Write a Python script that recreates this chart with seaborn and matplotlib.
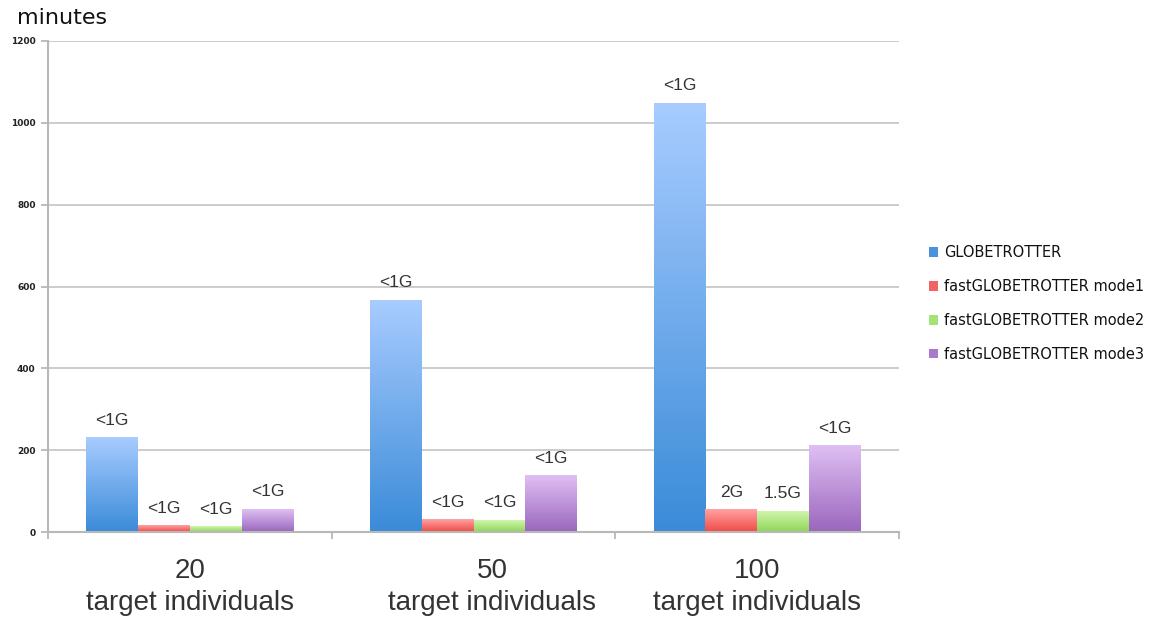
import numpy as np
import pandas as pd
import matplotlib
matplotlib.use("Agg")
import matplotlib.pyplot as plt
import matplotlib.transforms as mtransforms
from matplotlib.colors import LinearSegmentedColormap
from matplotlib.patches import Patch
import seaborn as sns

# ---------------- data ----------------
categories = ["20\ntarget individuals", "50\ntarget individuals", "100\ntarget individuals"]
series = ["GLOBETROTTER", "fastGLOBETROTTER mode1", "fastGLOBETROTTER mode2", "fastGLOBETROTTER mode3"]
globetrotter = [230, 567, 1048]
fast_mode1 = [15, 31, 55]
fast_mode2 = [14, 29, 51]
fast_mode3 = [56, 138, 212]
mem_globetrotter = ["<1G", "<1G", "<1G"]
mem_mode1 = ["<1G", "<1G", "2G"]
mem_mode2 = ["<1G", "<1G", "1.5G"]
mem_mode3 = ["<1G", "<1G", "<1G"]
yticks = [0, 200, 400, 600, 800, 1000, 1200]

values = [globetrotter, fast_mode1, fast_mode2, fast_mode3]
mems = [mem_globetrotter, mem_mode1, mem_mode2, mem_mode3]

df = pd.DataFrame({
    "category": [c for _ in series for c in categories],
    "series": [s for s in series for _ in categories],
    "minutes": [v for vals in values for v in vals],
})

# gradient colours (top, bottom) and legend colours
grad_colors = [("#a8ccff", "#3a8bd8"),
               ("#ffa3a3", "#ef4a45"),
               ("#d0f6ad", "#8ed655"),
               ("#dfc0f3", "#9a66bd")]
legend_colors = ["#4a92dc", "#f26464", "#a4e27a", "#a77acb"]

sns.set_theme(style="white")
plt.rcParams["font.family"] = ["Liberation Sans", "DejaVu Sans"]

fig = plt.figure(figsize=(11.62, 6.19), dpi=100)
ax = fig.add_axes([48 / 1162, 1 - 532 / 619, (899 - 48) / 1162, (532 - 41) / 619])

sns.barplot(data=df, x="category", y="minutes", hue="series", order=categories,
            hue_order=series, palette=legend_colors, width=0.73, gap=0,
            errorbar=None, ax=ax, legend=False, saturation=1)

ax.set_ylim(0, 1200)
ax.set_xlim(-0.5, 2.5)

# gradient fill for each bar
for i, cont in enumerate(ax.containers):
    top_c, bot_c = grad_colors[i]
    cmap = LinearSegmentedColormap.from_list(f"g{i}", [bot_c, top_c])
    grad = np.linspace(0, 1, 256).reshape(-1, 1)
    for j, bar in enumerate(cont):
        x, w, h = bar.get_x(), bar.get_width(), bar.get_height()
        ax.imshow(grad, extent=(x, x + w, 0, h), origin="lower", aspect="auto",
                  cmap=cmap, zorder=2.5, interpolation="bicubic")
        bar.set_visible(False)
        ax.annotate(mems[i][j], xy=(x + w / 2, h), xytext=(0, 7),
                    textcoords="offset points", ha="center", va="bottom",
                    fontsize=12.5, color="#333333", zorder=4)

ax.set_xlim(-0.5, 2.5)
ax.set_ylim(0, 1200)

# grid & spines
ax.set_yticks(yticks)
ax.yaxis.grid(True, color="#c8c8c8", linewidth=1.3)
ax.xaxis.grid(False)
ax.set_axisbelow(True)
for side in ["top", "right"]:
    ax.spines[side].set_visible(False)
for side in ["left", "bottom"]:
    ax.spines[side].set_color("#b8b8b8")
    ax.spines[side].set_linewidth(1.5)

ax.tick_params(axis="y", which="major", length=5, width=1.3, color="#b8b8b8",
               left=True, pad=4)
for lab in ax.get_yticklabels():
    lab.set_fontfamily("DejaVu Sans")
    lab.set_fontweight("bold")
    lab.set_fontsize(6.5)
    lab.set_color("#222222")

ax.set_xticks([0, 1, 2])
ax.set_xticklabels(categories, fontsize=20, color="#333333", linespacing=1.3)
ax.set_xticks([-0.5, 0.5, 1.5, 2.5], minor=True)
ax.tick_params(axis="x", which="major", length=0, pad=19)
ax.tick_params(axis="x", which="minor", length=5, width=1.3, color="#b8b8b8", bottom=True)

# middle label sits slightly right in the original
lab = ax.get_xticklabels()[1]
lab.set_transform(lab.get_transform() + mtransforms.ScaledTranslation(19 / 100, 0, fig.dpi_scale_trans))

ax.set_xlabel("")
ax.set_ylabel("")

fig.text(17 / 1162, 1 - 18 / 619, "minutes", fontsize=16, family="DejaVu Sans",
         color="#111111", ha="left", va="center")

handles = [Patch(facecolor=c, edgecolor="none") for c in legend_colors]
leg = fig.legend(handles, series, loc="upper left",
                 bbox_to_anchor=(916 / 1162, 1 - 232 / 619), frameon=False,
                 prop={"family": "DejaVu Sans", "size": 10.5},
                 handlelength=0.6, handleheight=0.6, handletextpad=0.4,
                 labelspacing=1.3)
for t in leg.get_texts():
    t.set_color("#111111")

fig.savefig("out.png", dpi=100, facecolor="white")
